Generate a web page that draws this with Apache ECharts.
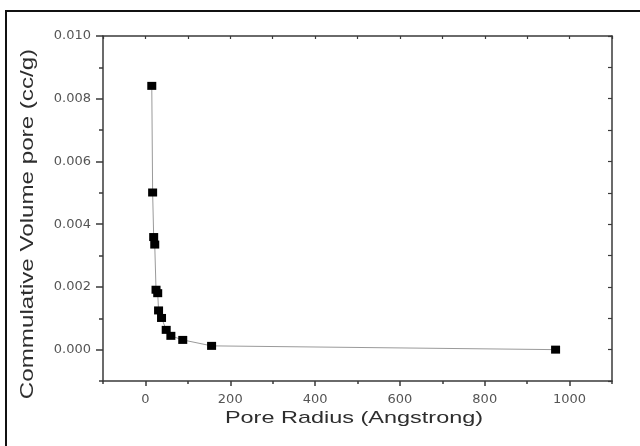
<!DOCTYPE html>
<html>
<head>
<meta charset="utf-8">
<script src="https://cdn.jsdelivr.net/npm/echarts@6/dist/echarts.min.js"></script>
<style>
html,body{margin:0;padding:0;background:#fff;}
#chart{width:640px;height:446px;}
</style>
</head>
<body>
<div id="chart"></div>
<script>
// Data
const poreRadius = [15, 17, 19.5, 22, 25, 29, 31, 38, 49, 60, 88, 156, 967];
const cumVolume = [0.00841, 0.00501, 0.00359, 0.00335, 0.00191, 0.00180, 0.00125, 0.00101, 0.00063, 0.00044, 0.00031, 0.00012, 0.0000];

const xMajorTicks = [0, 200, 400, 600, 800, 1000];
const xMinorTicks = [-100, 100, 300, 500, 700, 900, 1100];
const yMajorTicks = [0.000, 0.002, 0.004, 0.006, 0.008, 0.010];
const yMinorTicks = [-0.001, 0.001, 0.003, 0.005, 0.007, 0.009];

const xTitle = 'Pore Radius (Angstrong)';
const yTitle = 'Commulative Volume pore (cc/g)';

const axisColor = '#3a3a3a';
const labelColor = '#555';
const labelFont = 'DejaVu Sans';

const chart = echarts.init(document.getElementById('chart'), null, {renderer: 'canvas'});

const baseX = {type: 'value', min: -100, max: 1100, gridIndex: 0, splitLine: {show: false}};
const baseY = {type: 'value', min: -0.001, max: 0.010, gridIndex: 0, splitLine: {show: false}};

chart.setOption({
  animation: false,
  backgroundColor: '#fff',
  grid: {left: 103, right: 28, top: 36, bottom: 65, containLabel: false},
  xAxis: [
    Object.assign({}, baseX, {
      position: 'bottom',
      axisLine: {show: true, onZero: false, lineStyle: {color: axisColor, width: 1.5}},
      axisTick: {show: true, inside: false, length: 5, customValues: xMajorTicks, lineStyle: {color: axisColor, width: 1.5}},
      axisLabel: {show: true, customValues: xMajorTicks, margin: 12, color: labelColor, fontFamily: labelFont, fontSize: 13,
        formatter: v => String(Math.round(v))}
    }),
    Object.assign({}, baseX, {
      position: 'bottom',
      axisLine: {show: false, onZero: false},
      axisTick: {show: true, inside: false, length: 3, customValues: xMinorTicks, lineStyle: {color: axisColor, width: 1.5}},
      axisLabel: {show: false}
    }),
    Object.assign({}, baseX, {
      position: 'top',
      axisLine: {show: true, onZero: false, lineStyle: {color: axisColor, width: 1.5}},
      axisTick: {show: true, inside: true, length: 3, customValues: xMajorTicks.concat(xMinorTicks), lineStyle: {color: axisColor, width: 1.2}},
      axisLabel: {show: false}
    })
  ],
  yAxis: [
    Object.assign({}, baseY, {
      position: 'left',
      axisLine: {show: true, onZero: false, lineStyle: {color: axisColor, width: 1.5}},
      axisTick: {show: true, inside: false, length: 7, customValues: yMajorTicks, lineStyle: {color: axisColor, width: 1.5}},
      axisLabel: {show: true, customValues: yMajorTicks, margin: 12, color: labelColor, fontFamily: labelFont, fontSize: 13,
        formatter: v => v.toFixed(3)}
    }),
    Object.assign({}, baseY, {
      position: 'left',
      axisLine: {show: false, onZero: false},
      axisTick: {show: true, inside: false, length: 4, customValues: yMinorTicks, lineStyle: {color: axisColor, width: 1.5}},
      axisLabel: {show: false}
    }),
    Object.assign({}, baseY, {
      position: 'right',
      axisLine: {show: true, onZero: false, lineStyle: {color: axisColor, width: 1.5}},
      axisTick: {show: true, inside: true, length: 4, customValues: yMajorTicks.concat(yMinorTicks), lineStyle: {color: axisColor, width: 1.2}},
      axisLabel: {show: false}
    })
  ],
  series: [{
    type: 'line',
    xAxisIndex: 0,
    yAxisIndex: 0,
    data: poreRadius.map((r, i) => [r, cumVolume[i]]),
    symbol: 'rect',
    symbolSize: [9, 8],
    itemStyle: {color: '#000'},
    lineStyle: {color: '#9a9a9a', width: 1},
    z: 3
  }],
  graphic: [
    {
      type: 'rect',
      shape: {x: 6, y: 11, width: 640, height: 460},
      style: {fill: 'none', stroke: '#111', lineWidth: 2},
      silent: true
    },
    {
      type: 'text',
      x: 354, y: 418,
      scaleX: 1.38,
      style: {text: xTitle, fontFamily: 'Liberation Sans', fontSize: 17, fill: '#2e2e2e', align: 'center', verticalAlign: 'middle'}
    },
    {
      type: 'text',
      x: 28, y: 224,
      rotation: Math.PI / 2,
      scaleX: 1.38,
      style: {text: yTitle, fontFamily: 'Liberation Sans', fontSize: 17.5, fill: '#2e2e2e', align: 'center', verticalAlign: 'middle'}
    }
  ]
});
</script>
</body>
</html>
